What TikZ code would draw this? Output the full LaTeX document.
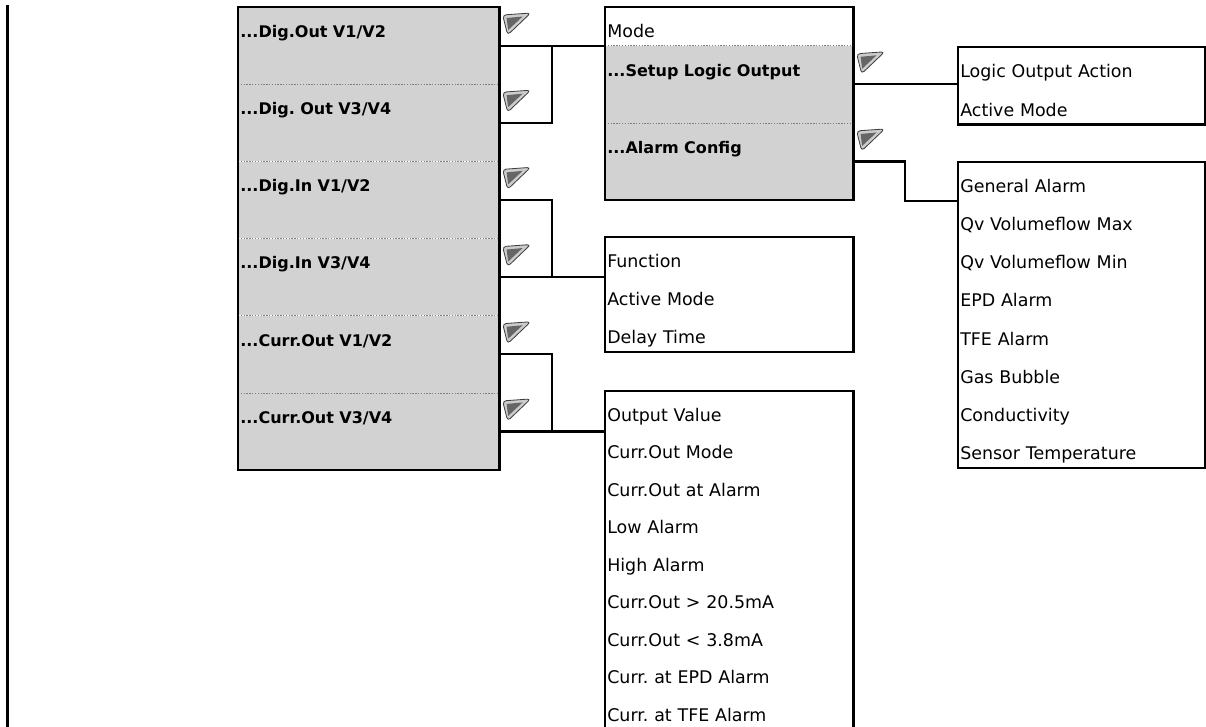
\documentclass[tikz,border=0pt]{standalone}
\usepackage{fontspec}
\setmainfont{DejaVu Sans}
\usepackage{tikz}
\usetikzlibrary{positioning,fit,calc}
\definecolor{cinza}{RGB}{210,210,210}
\frenchspacing
\tikzset{
  seta/.pic={
    \draw[draw=black!75, fill=black!20, line width=0.6pt, rounded corners=2.5]
      (0,2) -- (28,0) -- (5,22) -- cycle;
    \fill[black!60] (4,5) -- (20,3.5) -- (5.5,17) -- cycle;
  },
  item/.style={anchor=north west, inner xsep=0.05cm, inner ysep=0pt, align=left,
               text height=0.75cm, text depth=0.205cm, font=\fontsize{12.4}{14}\selectfont},
  sub/.style={item, fill=cinza, text depth=1.165cm, font=\bfseries\fontsize{11.4}{13}\selectfont},
  quadro/.style={draw, line width=1.7pt, inner sep=0pt, fit=#1},
  liga/.style={line width=1.5pt},
  sep/.style={gray, line width=0.5pt, dash pattern=on 1pt off 1pt},
}
\begin{document}
\begin{tikzpicture}[x=0.025cm,y=-0.025cm]

    \useasboundingbox (0,0) rectangle (1206,726);
    \clip (0,0) rectangle (1206,726);

    %% ---------- margem ----------
    \draw[line width=1.6pt] (7.5,5) -- (7.5,730);

    %% ---------- coluna A: saidas e entradas ----------
    \node[sub, text width=6.425cm] (dout1) at (238,7) {...Dig.Out V1/V2};
    \node[sub, text width=6.425cm, below=0pt of dout1] (dout2) {...Dig. Out V3/V4};
    \node[sub, text width=6.425cm, below=0pt of dout2] (din1)  {...Dig.In V1/V2};
    \node[sub, text width=6.425cm, below=0pt of din1]  (din2)  {...Dig.In V3/V4};
    \node[sub, text width=6.425cm, below=0pt of din2]  (cout1) {...Curr.Out V1/V2};
    \node[sub, text width=6.425cm, below=0pt of cout1] (cout2) {...Curr.Out V3/V4};

    %% ---------- coluna B: submenus ----------
    \node[item, text width=6.1cm] (mode) at (605,7) {Mode};
    \node[sub, text width=6.1cm, below=0pt of mode]  (setup) {...Setup Logic Output};
    \node[sub, text width=6.1cm, below=0pt of setup] (alarm) {...Alarm Config};

    \foreach \t [count=\i] in {Function, Active Mode, Delay Time}
      \node[item, text width=6.1cm] (fun\i) at (605,{237+(\i-1)*38.2}) {\t};

    \foreach \t [count=\i] in {Output Value, Curr.Out Mode, Curr.Out at Alarm, Low Alarm,
        High Alarm, Curr.Out > 20.5mA, Curr.Out < 3.8mA, Curr. at EPD Alarm,
        Curr. at TFE Alarm, {}}
      \node[item, text width=6.1cm, text depth=0.1875cm] (out\i) at (605,{391+(\i-1)*37.5}) {\t};

    %% ---------- coluna C: parametros ----------
    \node[item, text width=6.06cm] (lact)  at (958,47) {Logic Output Action};
    \node[item, text width=6.06cm, below=0pt of lact] (lmode) {Active Mode};

    \foreach \t [count=\i] in {General Alarm, Qv Volumeflow Max, Qv Volumeflow Min, EPD Alarm,
        TFE Alarm, Gas Bubble, Conductivity, Sensor Temperature}
      \node[item, text width=6.06cm] (al\i) at (958,{162+(\i-1)*38.2}) {\t};

    %% separadores pontilhados
    \foreach \n in {dout1,dout2,din1,din2,cout1,mode,setup}
      \draw[sep] (\n.south west) -- (\n.south east);

    %% molduras
    \node[quadro={(dout1)(cout2)}] (esq) {};
    \node[quadro={(mode)(alarm)}]  (modq) {};
    \node[quadro={(fun1)(fun3)}]   (funq) {};
    \node[quadro={(out1)(out10)}]  (outq) {};
    \node[quadro={(lact)(lmode)}]  (logq) {};
    \node[quadro={(al1)(al8)}]     (alq) {};

    %% ---------- ligacoes ----------
    \draw[liga] (dout1.east) -- (dout1.east -| modq.west);
    \draw[liga] (dout2.east) -| ($(dout1.east)!.5!(dout1.east -| modq.west)$);
    \draw[liga] (din1.east) -| ($(din2.east)!.5!(din2.east -| funq.west)$);
    \draw[liga] (din2.east) -- (din2.east -| funq.west);
    \draw[liga] (cout1.east) -| ($(cout2.east)!.5!(cout2.east -| outq.west)$);
    \draw[liga] (cout2.east) -- (cout2.east -| outq.west);
    \draw[liga] (setup.east) -- (setup.east -| logq.west);
    \draw[liga] (alarm.east) -| ($(alarm.east)!.5!(alarm.east -| alq.west)$) |- (al1.south west);

    %% setas dos submenus
    \foreach \n in {dout1,dout2,din1,din2,cout1,cout2,setup,alarm}
      \pic at ([shift={(3,6)}]\n.north east) {seta};

    \end{tikzpicture}
\end{document}
